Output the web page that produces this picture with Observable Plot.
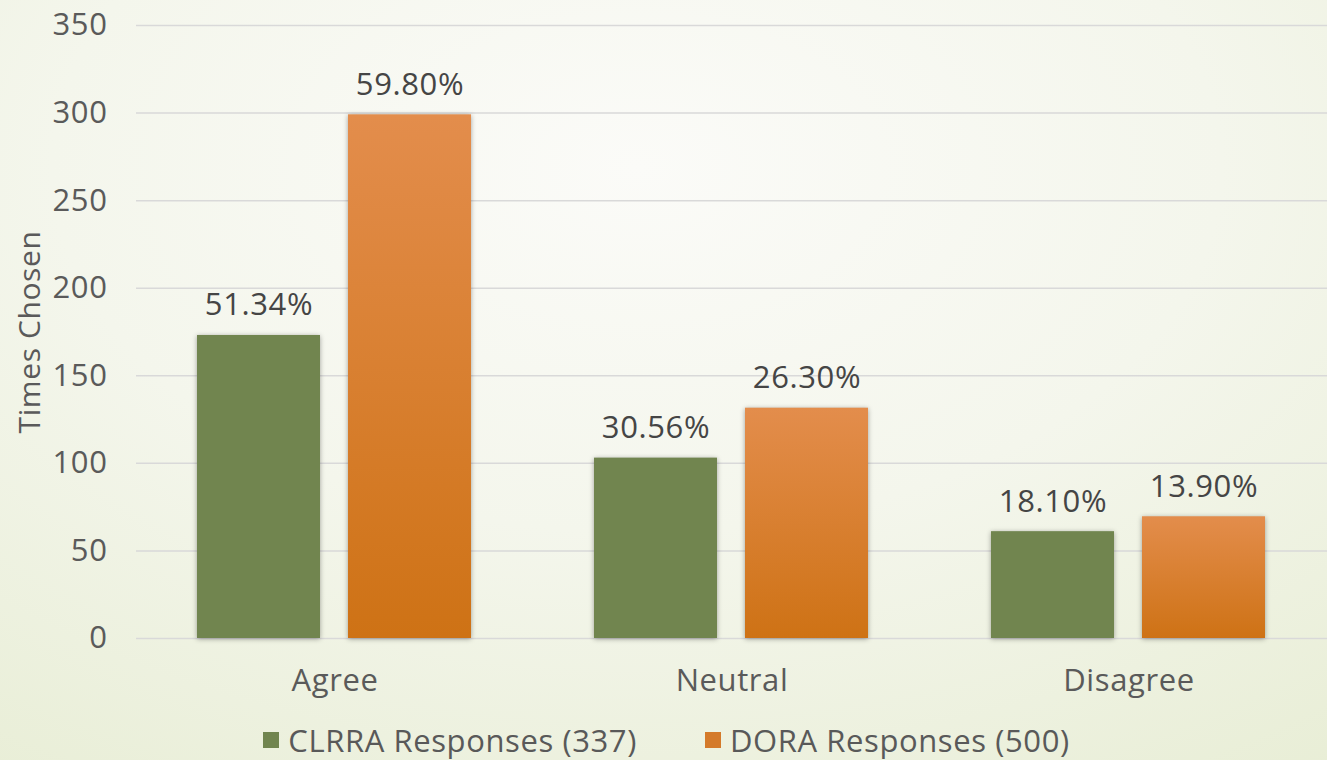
<!DOCTYPE html>
<html>
<head>
<meta charset="utf-8">
<script src="https://cdn.jsdelivr.net/npm/d3@7"></script>
<script src="https://cdn.jsdelivr.net/npm/@observablehq/plot@0.6"></script>
<style>
  html, body { margin: 0; padding: 0; }
  body {
    width: 1327px; height: 760px; overflow: hidden;
    font-family: "Open Sans", "DejaVu Sans", sans-serif;
    background: radial-gradient(ellipse 110% 120% at 48% 22%, #fbfbf8 0%, #f4f6ec 40%, #e3eacc 100%);
  }
  #chart svg { display: block; background: transparent; }
  #legend {
    display: flex; justify-content: center; gap: 68px;
    font-size: 31px; color: #595959; margin-top: 0px; line-height: 40px;
    letter-spacing: 0.6px; padding-left: 6px;
  }
  #legend .item { display: flex; align-items: center; }
  #legend .sw { width: 16px; height: 16px; margin-right: 9px; }
</style>
</head>
<body>
<div id="chart"></div>
<div id="legend"></div>
<script>
// Survey answers per response source
const categories = ["Agree", "Neutral", "Disagree"];
const series = ["CLRRA Responses (337)", "DORA Responses (500)"];
const totals = [337, 500];
const clrraPct = [51.34, 30.56, 18.10];
const doraPct = [59.80, 26.30, 13.90];
const yTicks = [0, 50, 100, 150, 200, 250, 300, 350];

const pcts = [clrraPct, doraPct];
const rows = [];
categories.forEach((c, i) => {
  series.forEach((s, j) => {
    const pct = pcts[j][i];
    rows.push({category: c, series: s, pct, count: pct / 100 * totals[j]});
  });
});

const green = "#71854f";
const orangeFill = "url(#orangeGrad)";

const chart = Plot.plot({
  width: 1327,
  height: 720,
  marginLeft: 135,
  marginRight: 0,
  marginTop: 25,
  marginBottom: 82,
  style: {fontFamily: "'Open Sans', 'DejaVu Sans', sans-serif", fontSize: "31px", color: "#5a5a5a", background: "transparent", letterSpacing: "0.6px"},
  fx: {domain: categories, padding: 0, label: null, tickSize: 0, tickPadding: 30, axis: "bottom"},
  x: {domain: series, paddingInner: 0.185, paddingOuter: 0.403, axis: null},
  y: {domain: [0, 350], ticks: yTicks, tickSize: 0, tickPadding: 29, label: "Times Chosen", labelAnchor: "center", labelOffset: 118},
  color: {domain: series, range: [green, orangeFill]},
  facet: {data: rows, x: "category"},
  marks: [
    Plot.gridY(yTicks, {stroke: "#d9d9d9", strokeOpacity: 1, strokeWidth: 1.5}),
    Plot.barY(rows, {x: "series", y: "count", fill: "series"}),
    Plot.text(rows, {x: "series", y: "count", text: d => d.pct.toFixed(2) + "%", dy: -20, lineAnchor: "bottom", fill: "#454545", fontSize: 31})
  ]
});

// Gradient for the DORA bars and a soft shadow under every bar
const ns = "http://www.w3.org/2000/svg";
const defs = document.createElementNS(ns, "defs");
defs.innerHTML = `
  <linearGradient id="orangeGrad" x1="0" y1="0" x2="0" y2="1">
    <stop offset="0" stop-color="#e38d4c"/>
    <stop offset="1" stop-color="#ce7215"/>
  </linearGradient>`;
chart.insertBefore(defs, chart.firstChild);
d3.select(chart).selectAll("g[aria-label='bar'] rect")
  .style("filter", "drop-shadow(0px 1px 2.5px rgba(0,0,0,0.35))");

// Plain axis title without the direction arrow
d3.select(chart).selectAll("text")
  .filter(function() { return /Times Chosen/.test(this.textContent); })
  .text("Times Chosen")
  .style("font-size", "30px");

document.getElementById("chart").appendChild(chart);

// Legend below the chart
const legend = d3.select("#legend");
series.forEach((s, j) => {
  const item = legend.append("div").attr("class", "item");
  item.append("div").attr("class", "sw")
    .style("background", j === 0 ? green : "#d47a2a");
  item.append("span").text(s);
});
</script>
</body>
</html>
